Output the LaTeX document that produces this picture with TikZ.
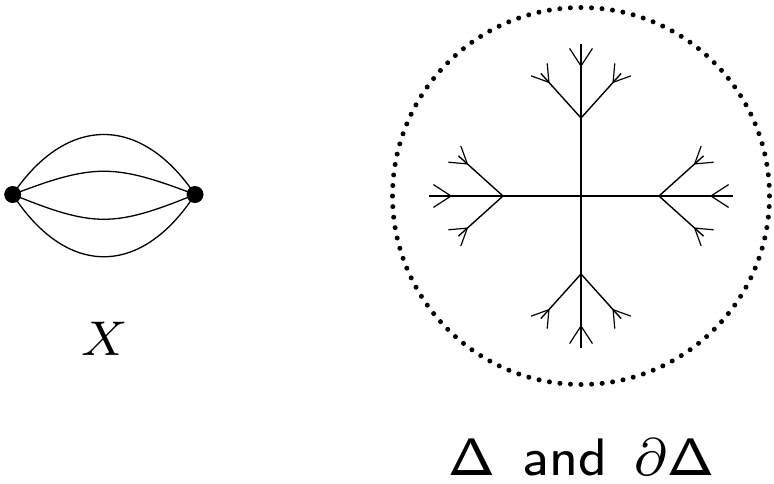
\RequirePackage{fix-cm}
\documentclass[tikz,border=0pt]{standalone}
\usepackage{graphicx}
\begin{document}
\begin{tikzpicture}[x=1pt,y=-1pt,
  mainline/.style={line width=2.6pt},
  branchline/.style={line width=1.4pt},
  prong/.style={line width=1.2pt},
  curve/.style={line width=1.3pt},
  vtx/.style={circle,fill=black,inner sep=0pt,minimum size=17pt},
  lab/.style={inner sep=0pt},
  dotring/.style={line width=5pt,line cap=round,dash pattern=on 0pt off 10.575pt}]
\useasboundingbox (0,0) rectangle (774,483);
% ---- left graph X ----
\node[vtx] (l) at (12.7,194.5) {};
\node[vtx] (r) at (195,194.5) {};
\draw[curve] (l.center) .. controls +(54,-80) and +(-54,-80) .. (r.center);
\draw[curve] (l.center) .. controls +(81,-31) and +(-81,-31) .. (r.center);
\draw[curve] (l.center) .. controls +(81,33) and +(-81,33) .. (r.center);
\draw[curve] (l.center) .. controls +(54,83) and +(-54,83) .. (r.center);
\node[lab] (xlab) at (105,339) {\scalebox{6.1}{\fontsize{8}{9.6}\selectfont $X$}};
% ---- tree ----
\coordinate (c) at (581,196);
\draw[dotring] (c) circle[radius=188.5];
\foreach \r in {0,90,180,270}{
  \begin{scope}[shift={(c)},rotate=\r]
    \coordinate (b) at (78,0);
    \draw[mainline] (0,0) -- (152,0);
    \draw[branchline] (b) -- ++(42:60);
    \draw[branchline] (b) -- ++(-42:60);
    \path (b) ++(42:48) coordinate (fa);
    \path (b) ++(-42:48) coordinate (fb);
    \draw[prong] (fa) -- ++(5:19);
    \draw[prong] (fa) -- ++(70:19);
    \draw[prong] (fb) -- ++(-5:19);
    \draw[prong] (fb) -- ++(-70:19);
    \coordinate (t) at (130,0);
    \draw[prong] (t) -- ++(33:21);
    \draw[prong] (t) -- ++(-33:21);
  \end{scope}
}
\node[lab] (dlab) at (581,457) {\scalebox{6.6}{\fontsize{8}{9.6}\selectfont\sffamily $\mathsf{\Delta}$\hspace{1.3pt} and \hspace{1.3pt}$\partial\mathsf{\Delta}$}};
\end{tikzpicture}
\end{document}
